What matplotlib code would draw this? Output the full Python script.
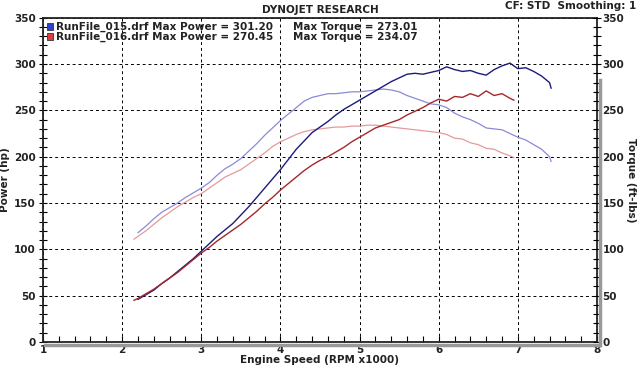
import matplotlib
matplotlib.use("Agg")
import matplotlib.pyplot as plt
from matplotlib.ticker import MultipleLocator
from matplotlib.patches import Rectangle
from matplotlib.lines import Line2D

rpm_015 = [2.2, 2.3, 2.4, 2.5, 2.6, 2.7, 2.8, 2.9, 3.0, 3.1, 3.2, 3.3, 3.4, 3.5, 3.6, 3.7, 3.8, 3.9,
           4.0, 4.1, 4.2, 4.3, 4.4, 4.5, 4.6, 4.7, 4.8, 4.9, 5.0, 5.1, 5.2, 5.3, 5.4, 5.5, 5.6, 5.7,
           5.8, 5.9, 6.0, 6.1, 6.2, 6.3, 6.4, 6.5, 6.6, 6.7, 6.8, 6.9, 7.0, 7.1, 7.2, 7.3, 7.4, 7.42]
power_015 = [46, 51, 56, 63, 69, 76, 83, 90, 98, 106, 114, 121, 128, 137, 146, 156, 166, 176,
             186, 197, 208, 217, 226, 232, 238, 245, 251, 256, 261, 266, 271, 276, 281, 285, 289, 290,
             289, 291, 293, 297, 294, 292, 293, 290, 288, 294, 298, 301, 295, 296, 292, 287, 280, 274]
torque_015 = [118, 125, 133, 140, 145, 150, 156, 161, 166, 172, 180, 187, 192, 198, 206, 214, 223, 231,
              239, 246, 253, 260, 264, 266, 268, 268, 269, 270, 270, 271, 272, 273, 272, 270, 266, 263,
              260, 257, 256, 253, 247, 243, 240, 236, 231, 230, 229, 225, 221, 218, 213, 208, 200, 195]

rpm_016 = [2.15, 2.2, 2.3, 2.4, 2.5, 2.6, 2.7, 2.8, 2.9, 3.0, 3.1, 3.2, 3.3, 3.4, 3.5, 3.6, 3.7, 3.8,
           3.9, 4.0, 4.1, 4.2, 4.3, 4.4, 4.5, 4.6, 4.7, 4.8, 4.9, 5.0, 5.1, 5.2, 5.3, 5.4, 5.5, 5.6,
           5.7, 5.8, 5.9, 6.0, 6.1, 6.2, 6.3, 6.4, 6.5, 6.6, 6.7, 6.8, 6.9, 6.95]
power_016 = [45, 47, 52, 57, 63, 69, 75, 82, 89, 96, 102, 109, 115, 121, 127, 134, 141, 149,
             156, 164, 171, 178, 185, 191, 196, 200, 205, 210, 216, 221, 226, 231, 234, 237, 240, 245,
             249, 253, 258, 262, 260, 265, 264, 268, 265, 271, 266, 268, 263, 261]
torque_016 = [111, 114, 120, 127, 134, 140, 146, 151, 156, 160, 166, 172, 178, 182, 186, 192, 198, 204,
              211, 216, 220, 224, 227, 229, 230, 231, 232, 232, 233, 233, 234, 234, 233, 232, 231, 230,
              229, 228, 227, 226, 224, 220, 219, 215, 213, 209, 208, 204, 201, 199]

legend_lines = ["RunFile_015.drf Max Power = 301.20", "RunFile_016.drf Max Power = 270.45"]
legend_torque = ["Max Torque = 273.01", "Max Torque = 234.07"]
legend_colors = ["#2f3fd0", "#d84040"]

plt.rcParams['font.family'] = ['DejaVu Sans']
fig = plt.figure(figsize=(6.4, 3.7), dpi=100)
ax = fig.add_axes([43/640, 1-342/370, (597-43)/640, (342-17.7)/370])

ax.plot(rpm_015, torque_015, color="#8a8ad8", lw=0.9)
ax.plot(rpm_016, torque_016, color="#e49a9a", lw=0.9)
ax.plot(rpm_015, power_015, color="#1c1c78", lw=1.0)
ax.plot(rpm_016, power_016, color="#a52828", lw=1.0)

ax.set_xlim(1, 8)
ax.set_ylim(0, 350)
ax.xaxis.set_major_locator(MultipleLocator(1))
ax.xaxis.set_minor_locator(MultipleLocator(0.2))
ax.yaxis.set_major_locator(MultipleLocator(50))
ax.yaxis.set_minor_locator(MultipleLocator(10))
ax.grid(True, which='major', color='black', linestyle=(0, (3, 3)), linewidth=0.7)
for s in ax.spines.values():
    s.set_linewidth(1.3)
    s.set_color('#222222')

lab = dict(fontsize=7.5, fontweight='bold', color='#222222')
ax.tick_params(axis='x', which='both', direction='in', length=4, width=0.8, labelsize=7.5, pad=2)
ax.tick_params(axis='y', which='both', direction='inout', length=6, width=0.8, labelsize=7.5, pad=2,
               right=True)
for t in ax.get_xticklabels() + ax.get_yticklabels():
    t.set_fontweight('bold')
    t.set_color('#222222')

ax2 = ax.twinx()
ax2.set_ylim(0, 350)
ax2.yaxis.set_major_locator(MultipleLocator(50))
ax2.yaxis.set_minor_locator(MultipleLocator(10))
ax2.tick_params(axis='y', which='both', direction='inout', length=6, width=0.8, labelsize=7.5, pad=1)
for t in ax2.get_yticklabels():
    t.set_fontweight('bold')
    t.set_color('#222222')
for s in ax2.spines.values():
    s.set_visible(False)

ax.set_xlabel("Engine Speed (RPM x1000)", labelpad=0, **lab)
ax.set_ylabel("Power (hp)", labelpad=3, **lab)
fig.text(631/640, 1-180/370, "Torque (ft-lbs)", rotation=270, ha='center', va='center', **lab)

# shadow on right/bottom frame
fig.add_artist(Line2D([45/640, 599/640], [1-344.5/370, 1-344.5/370], color='#999999', lw=2.5))
fig.add_artist(Line2D([599.5/640, 599.5/640], [1-344.5/370, 1-80/370], color='#999999', lw=2.5))

fig.text(0.5, 1-10/370, "DYNOJET RESEARCH", ha='center', va='center', **lab)
fig.text(636/640, 1-6/370, "CF: STD  Smoothing: 1", ha='right', va='center', **lab)

for i in range(2):
    yc = 1 - (26.5 + 10*i)/370
    fig.add_artist(Rectangle((47/640, yc - 3.5/370), 6/640, 7/370, facecolor=legend_colors[i],
                             edgecolor='#333333', lw=0.6, transform=fig.transFigure))
    fig.text(56/640, yc, legend_lines[i], ha='left', va='center', **lab)
    fig.text(293/640, yc, legend_torque[i], ha='left', va='center', **lab)

fig.savefig("out.png", dpi=100, facecolor='white')
